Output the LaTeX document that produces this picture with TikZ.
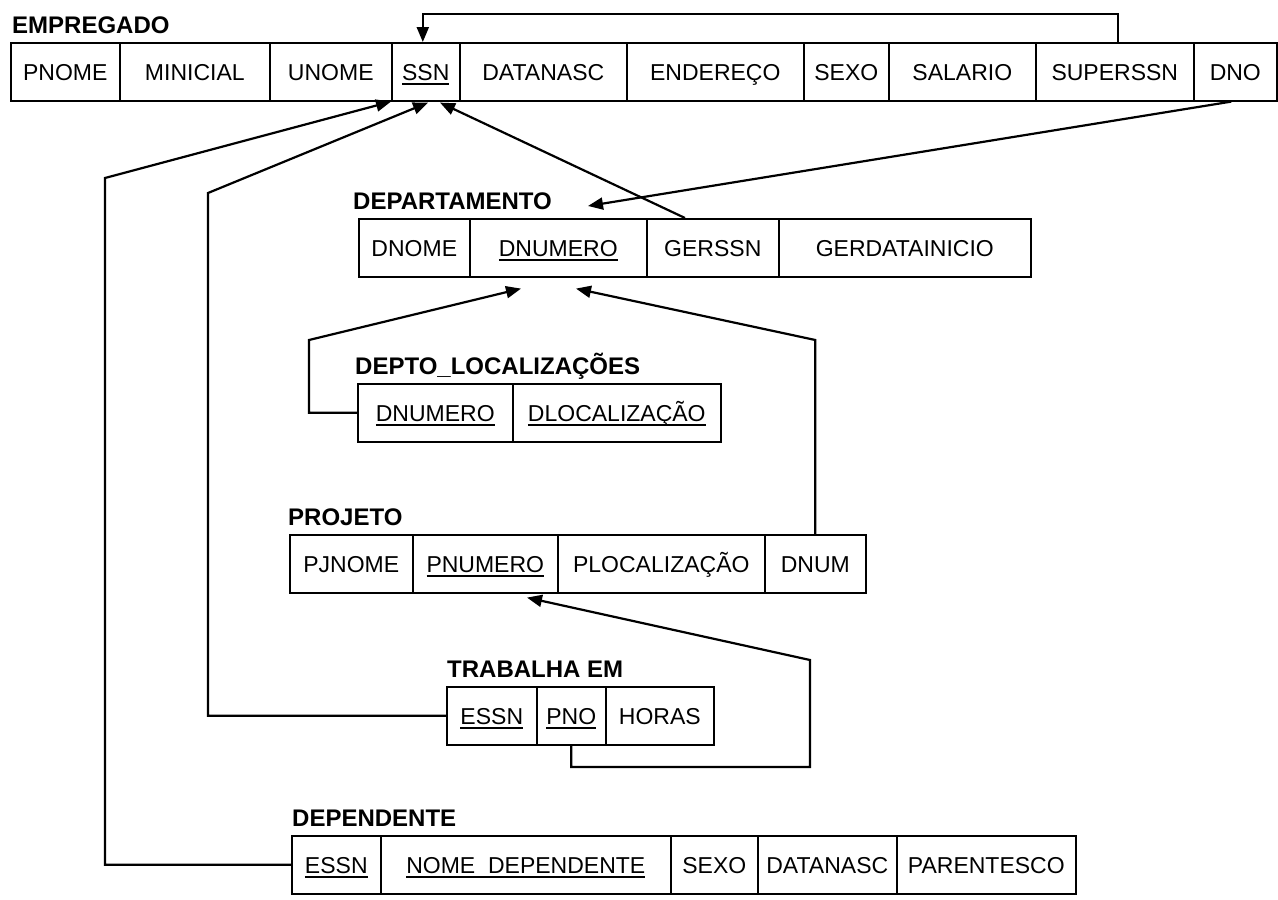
\documentclass[tikz,border=0pt]{standalone}
\usepackage{fontspec}
\setmainfont{Liberation Sans}
\usetikzlibrary{arrows.meta}

% key attribute: underline at a fixed depth, so descenders do not push it down
\newcommand\keyattr[1]{\setbox0\hbox{#1}\rlap{\vrule height -2.5pt depth 4.5pt width \wd0}\box0}
% one table cell: name, left x, right x, top y, text
\newcommand\tcell[5]{\node[cell, minimum width={#3-#2}] (#1) at (#2,#4) {#5};}

\tikzset{
  cell/.style={draw, line width=1.6pt, minimum height=58pt, inner sep=0pt,
               text height=21pt, text depth=4.5pt,
               anchor=north west, font=\fontsize{23}{27}\selectfont},
  reltitle/.style={anchor=base west, inner sep=0pt,
               font=\fontsize{24}{28}\selectfont\bfseries},
  fk/.style={line width=2.2pt, -{Triangle[length=15pt,width=12pt]}}
}

\begin{document}
\begin{tikzpicture}[x=1pt, y=-1pt]
\useasboundingbox (0,0) rectangle (1278,900);
\fill[white] (0,0) rectangle (1278,900);

% EMPREGADO
\node[reltitle] (emp-title) at (12,33) {EMPREGADO};
\tcell{emp-pnome}{10}{119}{42}{PNOME}
\tcell{emp-minicial}{119}{269}{42}{MINICIAL}
\tcell{emp-unome}{269}{391}{42}{UNOME}
\tcell{emp-ssn}{391}{459}{42}{\keyattr{SSN}}
\tcell{emp-datanasc}{459}{626}{42}{DATANASC}
\tcell{emp-endereco}{626}{803}{42}{ENDEREÇO}
\tcell{emp-sexo}{803}{888}{42}{SEXO}
\tcell{emp-salario}{888}{1035}{42}{SALARIO}
\tcell{emp-superssn}{1035}{1193}{42}{SUPERSSN}
\tcell{emp-dno}{1193}{1276}{42}{DNO}

% DEPARTAMENTO
\node[reltitle] (dept-title) at (353,209) {DEPARTAMENTO};
\tcell{dept-dnome}{358}{469}{218}{DNOME}
\tcell{dept-dnumero}{469}{646}{218}{\keyattr{DNUMERO}}
\tcell{dept-gerssn}{646}{778}{218}{GERSSN}
\tcell{dept-gerdata}{778}{1030}{218}{GERDATAINICIO}

% DEPTO_LOCALIZACOES
\node[reltitle] (loc-title) at (355,374) {DEPTO\_LOCALIZAÇÕES};
\tcell{loc-dnumero}{357}{512}{383}{\keyattr{DNUMERO}}
\tcell{loc-dlocal}{512}{720}{383}{\keyattr{DLOCALIZAÇÃO}}

% PROJETO
\node[reltitle] (proj-title) at (288,525) {PROJETO};
\tcell{proj-pjnome}{289}{412}{534}{PJNOME}
\tcell{proj-pnumero}{412}{557}{534}{\keyattr{PNUMERO}}
\tcell{proj-plocal}{557}{764}{534}{PLOCALIZAÇÃO}
\tcell{proj-dnum}{764}{865}{534}{DNUM}

% TRABALHA EM
\node[reltitle] (trab-title) at (447,677) {TRABALHA EM};
\tcell{trab-essn}{446}{536}{686}{\keyattr{ESSN}}
\tcell{trab-pno}{536}{605}{686}{\keyattr{PNO}}
\tcell{trab-horas}{605}{713}{686}{HORAS}

% DEPENDENTE
\node[reltitle] (depe-title) at (292,826) {DEPENDENTE};
\tcell{depe-essn}{291}{380}{835}{\keyattr{ESSN}}
\tcell{depe-nome}{380}{670}{835}{\keyattr{NOME\_DEPENDENTE}}
\tcell{depe-sexo}{670}{757}{835}{SEXO}
\tcell{depe-datanasc}{757}{896}{835}{DATANASC}
\tcell{depe-parentesco}{896}{1075}{835}{PARENTESCO}

% routing points of the foreign-key connectors
\coordinate (loop-top) at (0,14);
\coordinate (dept-in) at (588,206);
\coordinate (bend-trab) at (208,193);
\coordinate (bend-depe) at (105,178);
\coordinate (bend-loc) at (309,340);
\coordinate (bend-dnum) at (814,340);
\coordinate (pno-low) at (810,767);
\coordinate (pno-high) at (810,660);

% SUPERSSN -> SSN
\draw[fk] ([xshift=3pt]emp-superssn.north) -- ([xshift=3pt]emp-superssn.north |- loop-top)
  -- ([xshift=-3pt]emp-ssn.north |- loop-top) -- ([xshift=-3pt]emp-ssn.north);
% DNO -> DEPARTAMENTO
\draw[fk] ([xshift=-4pt]emp-dno.south) -- (dept-in);
% GERSSN -> SSN
\draw[fk] ([xshift=39pt]dept-gerssn.north west) -- ([xshift=49pt,yshift=-1pt]emp-ssn.south west);
% TRABALHA EM.ESSN -> SSN
\draw[fk] (trab-essn.west) -| (bend-trab) -- ([xshift=37pt,yshift=-1pt]emp-ssn.south west);
% DEPENDENTE.ESSN -> SSN
\draw[fk] (depe-essn.west) -| (bend-depe) -- (emp-ssn.south west);
% DEPTO_LOCALIZACOES.DNUMERO -> DNUMERO
\draw[fk] (loc-dnumero.west) -| (bend-loc) -- ([xshift=52pt,yshift=-11pt]dept-dnumero.south west);
% PROJETO.DNUM -> DNUMERO
\draw[fk] (proj-dnum.north) -- (proj-dnum.north |- bend-dnum) -- ([xshift=107pt,yshift=-11pt]dept-dnumero.south west);
% TRABALHA EM.PNO -> PNUMERO
\draw[fk] (trab-pno.south) |- (pno-low) -- (pno-high) -- ([xshift=115pt,yshift=-4pt]proj-pnumero.south west);
\end{tikzpicture}
\end{document}
